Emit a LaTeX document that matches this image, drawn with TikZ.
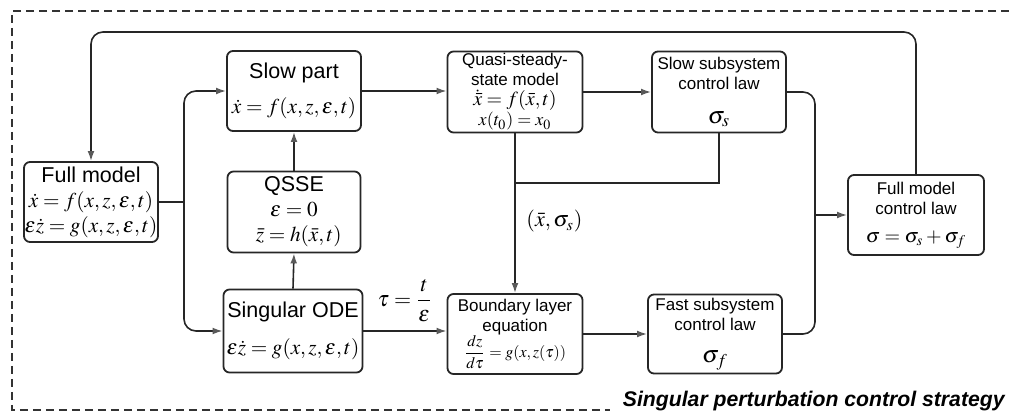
\documentclass[tikz,border=0pt]{standalone}
\usepackage{mathptmx}
\usepackage{fontspec}
\setmainfont{Liberation Sans}
\setsansfont{Liberation Sans}
\usetikzlibrary{arrows.meta}
\newcommand\mbig{\fontsize{10.6}{12.5}\selectfont}
\newcommand\msig{\fontsize{12}{13}\selectfont}
\begin{document}
\begin{tikzpicture}[x=0.5pt,y=-0.5pt,
  box/.style={draw=black!85, line width=0.9pt, rounded corners=3pt, align=center, inner sep=0pt, font=\fontsize{10.75}{12.5}\selectfont},
  sbox/.style={box, font=\fontsize{8.5}{10}\selectfont},
  conn/.style={draw=black!85, line width=0.8pt},
  arr/.style={conn, -{Latex[length=5pt,width=3.4pt,color=black!65]}},
  frame/.style={black!80, line width=0.6pt, dash pattern=on 4pt off 2.5pt},
]
\useasboundingbox (0,0) rectangle (1009,412);
\coordinate (f1) at (1009,11);
\coordinate (f2) at (12,11);
\coordinate (f3) at (12,410);
\coordinate (f4) at (610,410);
\draw[frame] (f1) -- (f2) -- (f3) -- (f4);

\node[box, minimum width=67pt, minimum height=40pt] (full) at (91,202)
  {Full model\\ {\mbig $\dot{x}=f(x,z,\varepsilon,t)$}\\ {\mbig $\varepsilon\dot{z}=g(x,z,\varepsilon,t)$}};
\node[box, minimum width=67pt, minimum height=40pt] (slow) at (294,91)
  {Slow part\\[5pt] {\mbig $\dot{x}=f(x,z,\varepsilon,t)$}};
\node[box, minimum width=66.5pt, minimum height=40.5pt] (qsse) at (294,212)
  {QSSE\\ {\mbig $\varepsilon=0$}\\ {\mbig $\;\;\bar{z}=h(\bar{x},t)$}};
\node[box, minimum width=69.5pt, minimum height=41.5pt] (sode) at (293,331)
  {Singular ODE\\[6pt] {\mbig $\varepsilon\dot{z}=g(x,z,\varepsilon,t)$}};
\node[sbox, minimum width=67.5pt, minimum height=40.5pt] (qss) at (515,92)
  {Quasi-steady-\\ state model\\ {\normalsize $\dot{\bar{x}}=f(\bar{x},t)$}\\ {\small $x(t_0)=x_0$}};
\node[sbox, minimum width=67pt, minimum height=40.5pt] (ssc) at (719,92)
  {Slow subsystem\\ control law\\[7pt] {\msig $\sigma_s$}};
\node[sbox, minimum width=67.5pt, minimum height=40pt] (ble) at (515,334)
  {Boundary layer\\ equation\\[-1pt] {\footnotesize $\displaystyle\frac{dz}{d\tau}=g(x,z(\tau))$}};
\node[sbox, minimum width=67pt, minimum height=39.5pt] (fsc) at (715,334)
  {Fast subsystem\\ control law\\[6pt] {\msig $\sigma_f$}};
\node[sbox, minimum width=68pt, minimum height=40pt] (fmc) at (916,215)
  {Full model\\ control law\\[4pt] {\normalsize $\sigma=\sigma_s+\sigma_f$}};

\coordinate (topy) at (0,32);
\coordinate (br) at (184,202);
\coordinate (j) at (515,183);
\coordinate (mx) at (815,215);

\draw[arr, rounded corners=6pt] (fmc.north) |- (full.north |- topy) -- (full.north);
\draw[conn] (full.east) -- (br);
\draw[arr, rounded corners=6pt] (br) |- (slow.west);
\draw[arr, rounded corners=6pt] (br) |- (sode.west);
\draw[arr] (slow.east) -- (slow.east -| qss.west);
\draw[arr] (qss.east) -- (qss.east -| ssc.west);
\draw[arr] (qsse.north) -- (slow.south);
\draw[arr] (sode.north) -- (qsse.south);
\draw[arr] (sode.east) -- node[above=1pt, font=\fontsize{11}{13}\selectfont] (tl) {$\tau=\displaystyle\frac{t}{\varepsilon}$} (sode.east -| ble.west);
\draw[arr] (qss.south) -- node[pos=0.55, right=2pt, font=\fontsize{11}{13}\selectfont] (xl) {$(\bar{x},\sigma_s)$} (ble.north);
\draw[conn] (ssc.south) |- (j);
\draw[conn, rounded corners=6pt] (ssc.east) -| (mx) |- (fsc.east);
\draw[arr] (ble.east) -- (ble.east -| fsc.west);
\draw[arr] (mx) -- (fmc.west);

\node[anchor=base east, inner sep=0pt, font=\fontsize{10.6}{13}\selectfont\bfseries\itshape] (title) at (1005,406)
  {Singular perturbation control strategy};
\end{tikzpicture}
\end{document}
